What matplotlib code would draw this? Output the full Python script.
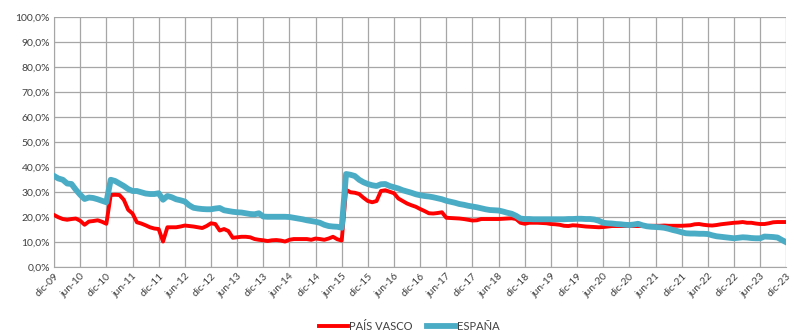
import numpy as np
import matplotlib
matplotlib.use("Agg")
import matplotlib.pyplot as plt

plt.rcParams['font.family'] = ['Lato', 'DejaVu Sans']

# Monthly values (%), dic-09 ... dic-23
pais_vasco = [
    20.9, 20.0, 19.3, 19.0, 19.3, 19.5, 18.6, 17.0, 18.3, 18.5, 18.8, 18.2,
    17.4, 28.9, 29.0, 28.9, 27.0, 23.0, 21.5, 18.0, 17.5, 16.8, 16.0, 15.5,
    15.3, 10.3, 16.0, 16.0, 16.0, 16.3, 16.7, 16.5, 16.3, 16.0, 15.7, 16.5,
    17.6, 17.3, 14.7, 15.3, 14.5, 11.8, 12.0, 12.2, 12.2, 12.0, 11.3, 11.0,
    10.8, 10.5, 10.8, 10.9, 10.7, 10.3, 11.0, 11.3, 11.3, 11.3, 11.3, 11.0,
    11.5, 11.3, 11.0, 11.5, 12.2, 11.2, 10.7, 31.0, 30.0, 29.8, 29.3, 27.8,
    26.5, 26.0, 26.5, 30.5, 30.8, 30.2, 29.6, 27.5, 26.5, 25.5, 24.8, 24.2,
    23.3, 22.5, 21.6, 21.5, 21.7, 22.0, 19.8, 19.7, 19.6, 19.5, 19.3, 19.0,
    18.7, 18.8, 19.3, 19.3, 19.3, 19.3, 19.3, 19.4, 19.5, 19.6, 19.3, 17.8,
    17.4, 17.8, 17.8, 17.8, 17.7, 17.6, 17.3, 17.2, 17.0, 16.6, 16.5, 16.8,
    16.7, 16.5, 16.3, 16.2, 16.1, 16.0, 16.1, 16.3, 16.5, 16.5, 16.5, 16.5,
    16.6, 16.5, 16.5, 16.5, 16.5, 16.6, 16.6, 16.6, 16.7, 16.6, 16.6, 16.6,
    16.6, 16.7, 16.8, 17.2, 17.3, 17.0, 16.8, 16.7, 16.9, 17.2, 17.4, 17.6,
    17.8, 17.9, 18.1, 17.8, 17.8, 17.5, 17.3, 17.3, 17.6, 18.0, 18.1, 18.1, 18.1,
]

espana = [
    36.5, 35.5, 35.0, 33.5, 33.3, 31.0, 29.0, 27.3, 27.9, 27.7, 27.2, 26.6,
    26.0, 35.0, 34.5, 33.5, 32.5, 31.3, 30.5, 30.5, 30.0, 29.5, 29.3, 29.3,
    29.6, 27.0, 28.5, 28.0, 27.2, 26.8, 26.3, 24.8, 23.8, 23.5, 23.3, 23.2,
    23.2, 23.5, 23.7, 22.8, 22.5, 22.2, 22.0, 21.9, 21.6, 21.3, 21.2, 21.6,
    20.3, 20.2, 20.2, 20.2, 20.2, 20.2, 20.1, 19.8, 19.5, 19.2, 18.8, 18.5,
    18.2, 17.8, 17.0, 16.5, 16.3, 16.2, 15.8, 37.3, 37.0, 36.5, 35.0, 34.0,
    33.3, 32.8, 32.5, 33.2, 33.3, 32.5, 32.0, 31.5, 30.8, 30.3, 29.8, 29.2,
    28.8, 28.5, 28.3, 28.0, 27.6, 27.2, 26.6, 26.2, 25.8, 25.3, 25.0, 24.6,
    24.3, 24.0, 23.6, 23.2, 22.9, 22.8, 22.7, 22.3, 21.8, 21.4, 20.6, 19.5,
    19.3, 19.3, 19.2, 19.2, 19.2, 19.2, 19.2, 19.2, 19.2, 19.2, 19.3, 19.3,
    19.4, 19.4, 19.3, 19.3, 19.1, 18.6, 17.8, 17.6, 17.5, 17.3, 17.2, 17.0,
    16.9, 17.1, 17.4, 16.8, 16.4, 16.2, 16.1, 16.0, 15.8, 15.4, 14.9, 14.5,
    14.0, 13.6, 13.5, 13.5, 13.4, 13.4, 13.3, 12.8, 12.4, 12.2, 12.0, 11.8,
    11.6, 11.8, 12.0, 11.9, 11.7, 11.6, 11.6, 12.3, 12.2, 12.1, 11.9, 10.9, 10.0,
]

etiquetas = [
    'dic-09', 'jun-10', 'dic-10', 'jun-11', 'dic-11', 'jun-12', 'dic-12',
    'jun-13', 'dic-13', 'jun-14', 'dic-14', 'jun-15', 'dic-15', 'jun-16',
    'dic-16', 'jun-17', 'dic-17', 'jun-18', 'dic-18', 'jun-19', 'dic-19',
    'jun-20', 'dic-20', 'jun-21', 'dic-21', 'jun-22', 'dic-22', 'jun-23',
    'dic-23',
]

meses = np.arange(len(pais_vasco))

fig = plt.figure(figsize=(7.95, 3.3), dpi=100)
ax = fig.add_axes([0.068, 0.19, 0.921, 0.758])

gris = '#a6a6a6'
ax.plot(meses, pais_vasco, color='#ff0000', lw=2.8, label='PAÍS VASCO',
        solid_joinstyle='round', zorder=3)
ax.plot(meses, espana, color='#4bacc6', lw=4.2, label='ESPAÑA',
        solid_joinstyle='round', zorder=4)

ax.set_xlim(0, len(meses) - 1)
ax.set_ylim(0, 100)
ax.set_yticks(np.arange(0, 101, 10))
ax.set_yticklabels([f'{v:.1f}%'.replace('.', ',') for v in range(0, 101, 10)],
                   fontsize=7.5, color='#404040')
ax.set_xticks(np.arange(0, len(meses), 6))
ax.set_xticklabels(etiquetas, rotation=45, ha='right', rotation_mode='anchor',
                   fontsize=7.5, color='#404040')
ax.tick_params(length=0, pad=3)

ax.grid(True, color=gris, lw=0.9)
ax.set_axisbelow(True)
for s in ['top', 'right']:
    ax.spines[s].set_visible(False)
ax.spines['left'].set_color(gris)
ax.spines['bottom'].set_color(gris)

fig.legend(loc='lower center', bbox_to_anchor=(0.515, -0.035), ncol=2,
           frameon=False, fontsize=8, handlelength=2.6, handletextpad=0.1,
           columnspacing=1.3, labelcolor='#404040')

fig.savefig('out.png', dpi=100)
